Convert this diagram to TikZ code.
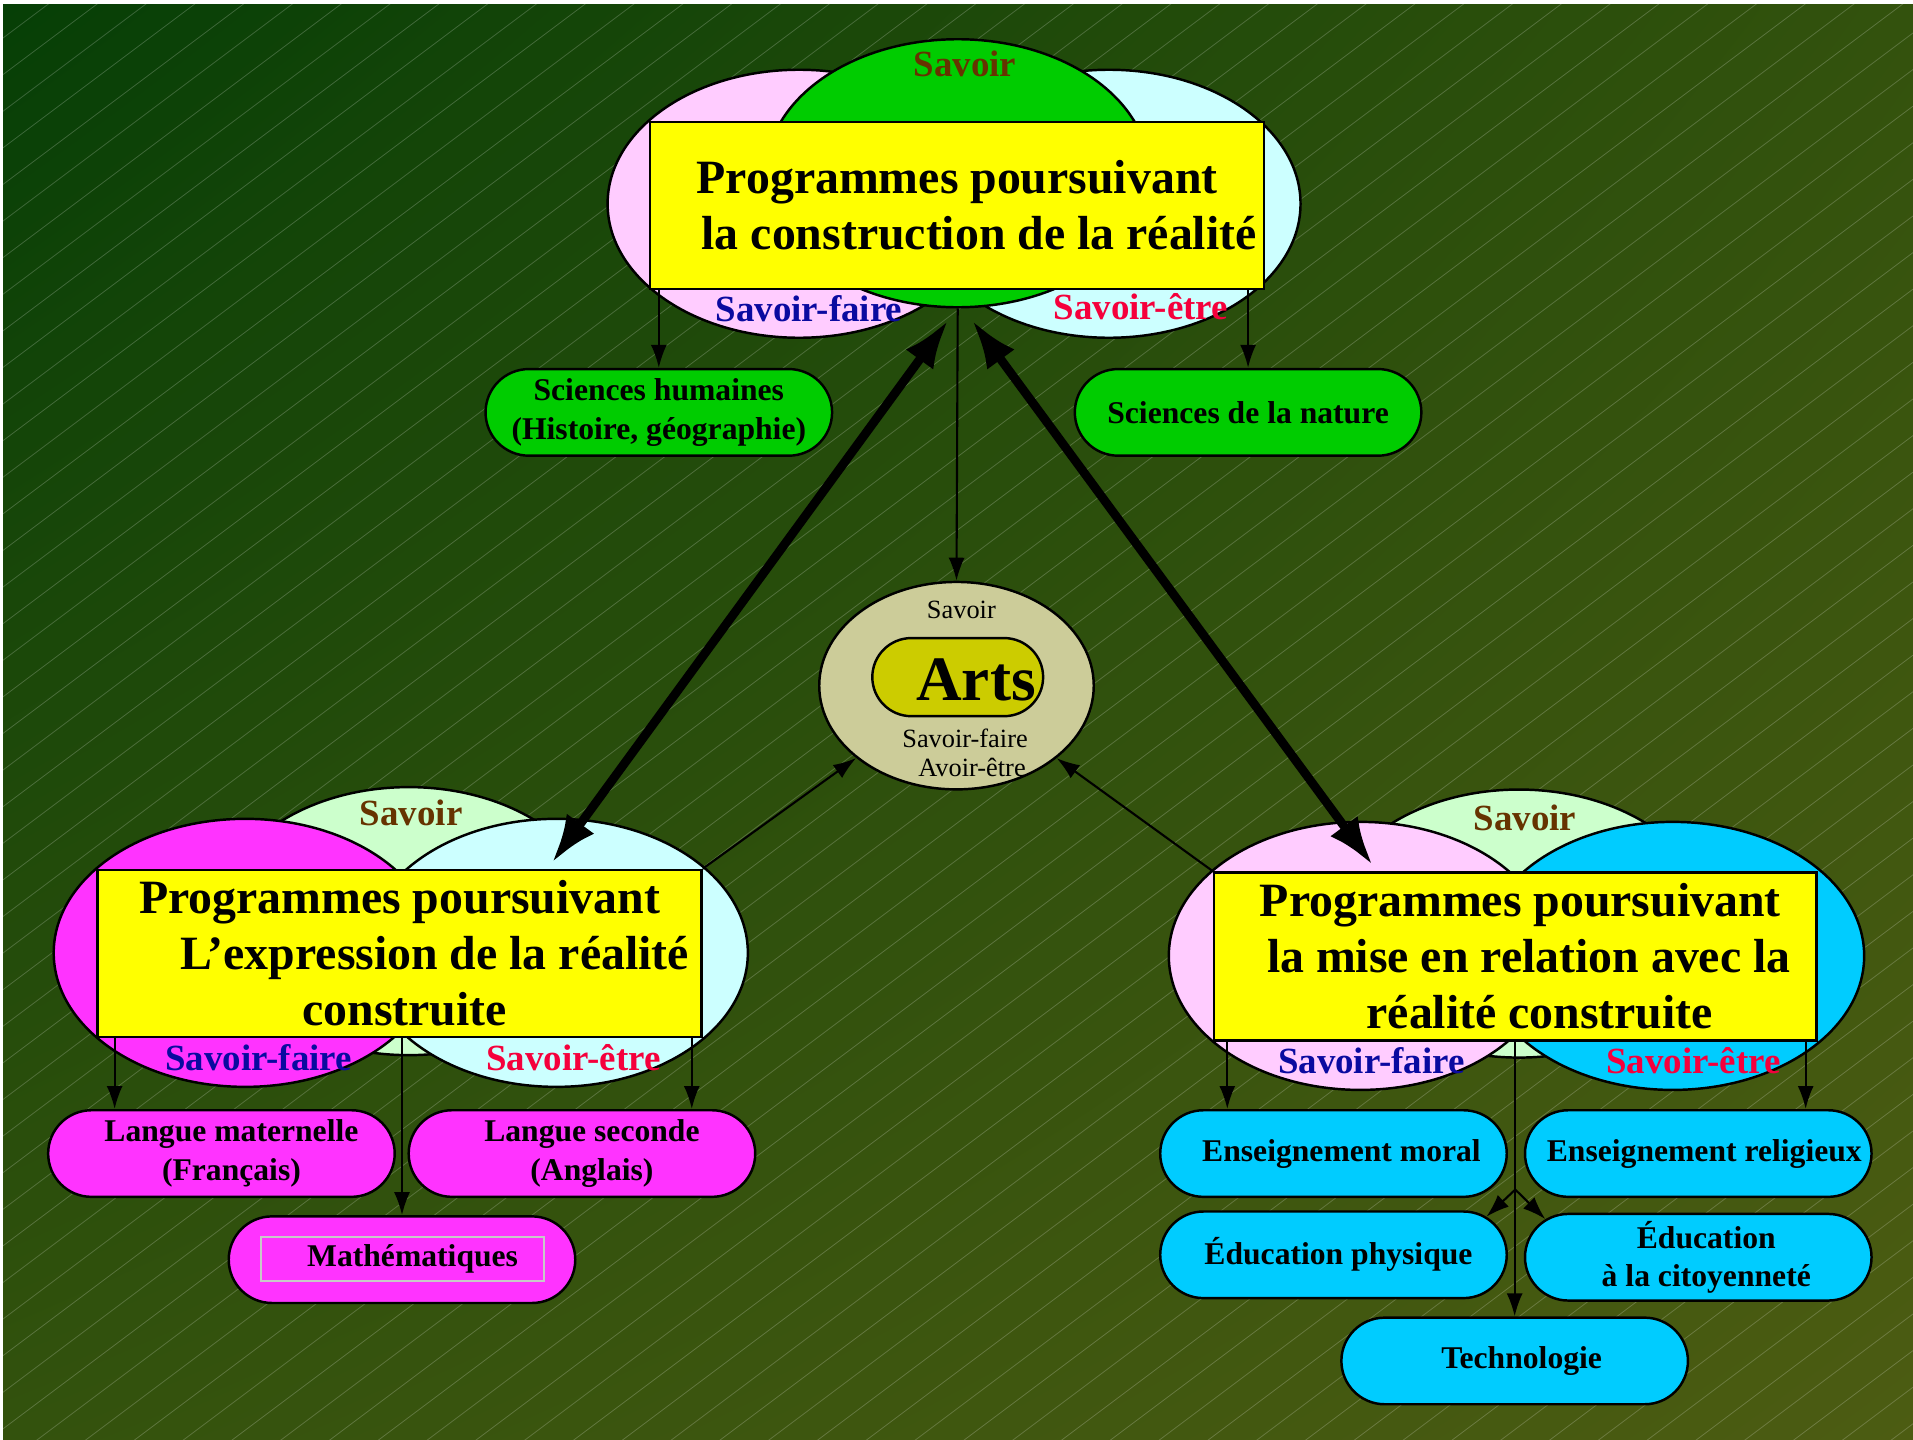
\documentclass[tikz,border=0pt]{standalone}
\usepackage{fontspec}
\setmainfont{Liberation Serif}
\usetikzlibrary{shapes.geometric, shapes.misc, arrows.meta, calc, shadings}

\definecolor{bgdark}{HTML}{063F06}
\definecolor{bgmid}{HTML}{33520D}
\definecolor{bglight}{HTML}{4C5C12}
\definecolor{vpink}{HTML}{FFCCFF}
\definecolor{vcyan}{HTML}{CCFFFF}
\definecolor{vgreen}{HTML}{00CC00}
\definecolor{vpale}{HTML}{CCFFCC}
\definecolor{vmagenta}{HTML}{FF33FF}
\definecolor{vsky}{HTML}{00CCFF}
\definecolor{progyellow}{HTML}{FFFF00}
\definecolor{artskhaki}{HTML}{CCCC99}
\definecolor{artsolive}{HTML}{CCCC00}
\definecolor{savbrown}{HTML}{663300}
\definecolor{savblue}{HTML}{0A0AA0}
\definecolor{savred}{HTML}{F5003C}
\definecolor{mathgray}{HTML}{C8C8C8}

\begin{document}
\begin{tikzpicture}[x=0.122mm, y=-0.122mm,
  venn/.style={ellipse, draw, line width=0.7pt, minimum width=38.3mm,
    minimum height=26.8mm, inner sep=0pt},
  prog/.style={draw, fill=progyellow, line width=0.7pt, inner sep=0pt,
    align=center, font=\fontsize{13.6}{15.9}\selectfont\bfseries},
  sav/.style={inner sep=0pt, font=\fontsize{10.5}{12}\selectfont\bfseries},
  subj/.style={rounded rectangle, draw, line width=0.7pt, minimum width=34.65mm,
    minimum height=8.66mm, inner sep=0pt, align=center,
    font=\fontsize{9}{11}\selectfont\bfseries},
  small/.style={inner sep=0pt, align=center, font=\fontsize{7.5}{8.3}\selectfont},
  arr/.style={-{Latex[length=2.3mm, width=1.6mm]}, line width=0.6pt},
  bigarr/.style={{Latex[length=4.8mm, width=3.4mm]}-{Latex[length=4.8mm, width=3.4mm]},
    line width=2.5pt},
  hatch/.style={white, opacity=0.2, line width=0.08mm}]

% background
\useasboundingbox (0,0) rectangle (1568,1180);
\fill[white] (0,0) rectangle (1568,1180);
\shade[upper left=bgdark, upper right=bgmid, lower left=bgmid, lower right=bglight]
  (2.5,4) rectangle (1568,1180);
\begin{scope}
  \clip (2.5,4) rectangle (1568,1180);
  \foreach \c in {33,63,...,2400}
    \draw[hatch] (0,\c) -- (1568,\c-1176);
\end{scope}

% construction de la realite
\node[venn, fill=vpink] (tfaire) at (655,167) {};
\node[venn, fill=vcyan] (tetre) at (909,167) {};
\node[venn, fill=vgreen] (tsavoir) at (785,142) {};
\node[prog, minimum width=61.37mm, minimum height=16.71mm] (tbox) at (784.5,168.5)
  {Programmes poursuivant\\\hspace*{4.4mm}la construction de la réalité};
\node[sav, text=savbrown] (tsav) at (791,52) {Savoir};
\node[sav, text=savblue] (tsf) at (663,253) {Savoir-faire};
\node[sav, text=savred] (tse) at (935,251) {Savoir-être};

\node[subj, fill=vgreen] (shum) at (540,338) {Sciences humaines\\(Histoire, géographie)};
\node[subj, fill=vgreen] (snat) at (1023,338) {Sciences de la nature};

% arts
\node[ellipse, draw, line width=0.7pt, fill=artskhaki, minimum width=27.45mm,
  minimum height=20.74mm, inner sep=0pt] (arts) at (784,562) {};
\node[small] (asav) at (788,500) {Savoir};
\node[rounded rectangle, draw, line width=0.7pt, fill=artsolive, minimum width=17.08mm,
  minimum height=7.81mm, inner sep=0pt] (apill) at (785,555) {};
\node[inner sep=0pt, font=\fontsize{18}{20}\selectfont\bfseries] (aname) at (800,557) {Arts};
\node[small] (afaire) at (791,617) {Savoir-faire\\\hspace*{1.4mm}Avoir-être};

% expression de la realite
\node[venn, fill=vpale] (lsavoir) at (335,755) {};
\node[venn, fill=vmagenta] (lfaire) at (201,781) {};
\node[venn, fill=vcyan] (letre) at (456,781) {};
\node[prog, minimum width=60.39mm, minimum height=16.71mm] (lbox) at (327.5,781.5)
  {Programmes poursuivant\\\hspace*{7mm}L’expression de la réalité\\\hspace*{1mm}construite};
\node[sav, text=savbrown] (lsav) at (337,666) {Savoir};
\node[sav, text=savblue] (lsf) at (212,867) {Savoir-faire};
\node[sav, text=savred] (lse) at (470,867) {Savoir-être};

\node[subj, fill=vmagenta] (lmat) at (181.5,945.5) {\hspace*{2mm}Langue maternelle\\\hspace*{2mm}(Français)};
\node[subj, fill=vmagenta] (lsec) at (477,945.5) {\hspace*{2mm}Langue seconde\\\hspace*{2mm}(Anglais)};
\node[subj, fill=vmagenta] (math) at (329.5,1032.5) {};
\node[draw=mathgray, line width=0.6pt, minimum width=28.3mm, minimum height=4.39mm,
  inner sep=0pt, font=\fontsize{9}{11}\selectfont\bfseries] (mathin) at (330,1032)
  {\hspace*{2mm}Mathématiques};

% mise en relation
\node[venn, fill=vpale] (rsavoir) at (1245,757) {};
\node[venn, fill=vpink] (rfaire) at (1115,783.5) {};
\node[venn, fill=vsky] (retre) at (1371,783.5) {};
\node[prog, minimum width=60.27mm, minimum height=16.84mm] (rbox) at (1242,784)
  {\hspace*{1mm}Programmes poursuivant\\\hspace*{2.7mm}la mise en relation avec la\\\hspace*{4.9mm}réalité construite};
\node[sav, text=savbrown] (rsav) at (1250,670) {Savoir};
\node[sav, text=savblue] (rsf) at (1124,869) {Savoir-faire};
\node[sav, text=savred] (rse) at (1388,869) {Savoir-être};

\node[subj, fill=vsky] (emor) at (1093,945.5) {\hspace*{1.6mm}Enseignement moral};
\node[subj, fill=vsky] (erel) at (1392,945.5) {\hspace*{1.2mm}Enseignement religieux};
\node[subj, fill=vsky] (ephy) at (1093,1028.5) {\hspace*{1mm}Éducation physique};
\node[subj, fill=vsky] (ecit) at (1392,1030.5) {\hspace*{1.6mm}Éducation\\\hspace*{1.6mm}à la citoyenneté};
\node[subj, fill=vsky] (tech) at (1241.5,1115.5) {\hspace*{1.4mm}Technologie};

% connectors
\draw[arr] (tbox.south -| shum.north) -- (shum.north);
\draw[arr] (tbox.south -| snat.north) -- (snat.north);
\draw[arr] (tsavoir.south) -- (arts.north);
\draw[bigarr] ($(tsavoir.south)+(-8,10)$) -- ($(lbox.north)+(125,-5)$);
\draw[bigarr] ($(tsavoir.south)+(12,10)$) -- ($(rbox.north)+(-117,-5)$);
\draw[arr] (lbox.north east) -- (arts);
\draw[arr] (rbox.north west) -- (arts);

\coordinate (lsw) at ($(lbox.south west)+(15,0)$);
\coordinate (lse) at ($(lbox.south east)+(-9,0)$);
\draw[arr] (lsw) -- (lsw |- lmat.north);
\draw[arr] (lse) -- (lse |- lsec.north);
\draw[arr] (lbox.south -| math.north) -- (math.north);

\coordinate (rsw) at ($(rbox.south west)+(12,0)$);
\coordinate (rse) at ($(rbox.south east)+(-10,0)$);
\draw[arr] (rsw) -- (rsw |- emor.north);
\draw[arr] (rse) -- (rse |- erel.north);
\draw[arr] (rbox.south -| tech.north) -- (tech.north);
\coordinate (fork) at ($(rbox.south)+(0,121)$);
\draw[arr] (fork) -- (ephy.14);
\draw[arr] (fork) -- (ecit.166);
\end{tikzpicture}
\end{document}
